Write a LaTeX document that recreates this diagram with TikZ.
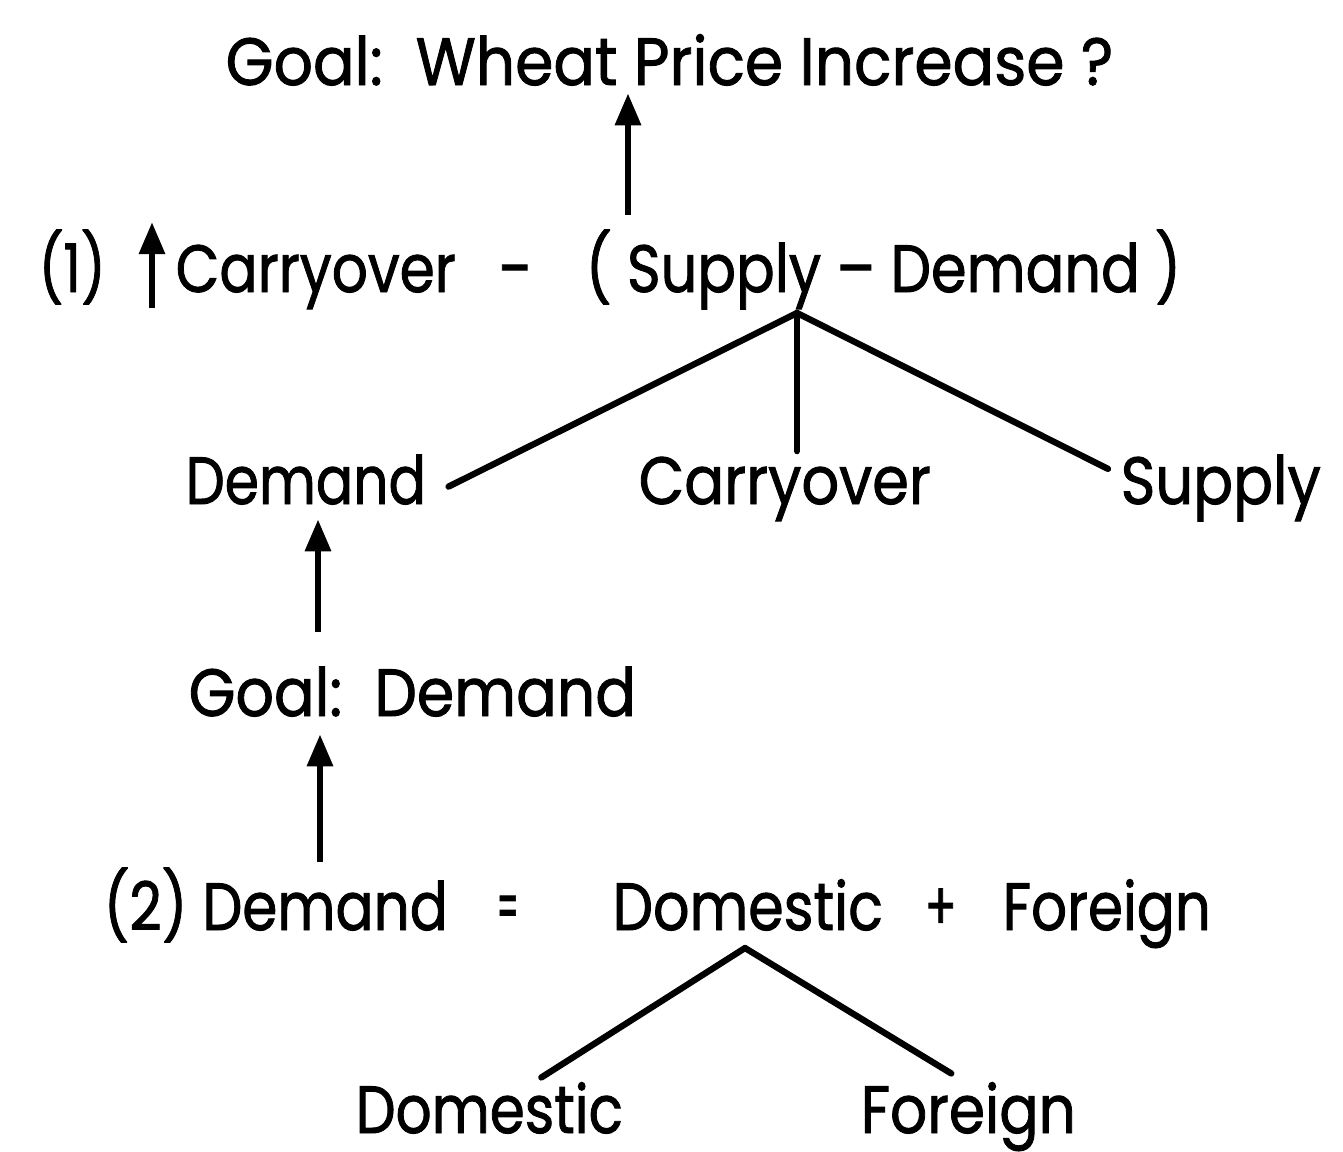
\documentclass[tikz,border=0pt]{standalone}
\usepackage{fontspec}
\usepackage{graphicx}
\setmainfont{Poppins}[FakeBold=1.4]
\usetikzlibrary{arrows.meta}
% set a piece of text to a given width, keeping its height
\newcommand\fitto[2]{\resizebox{#1}{\height}{#2}}
\begin{document}
\begin{tikzpicture}[x=0.01cm,y=-0.01cm,
  lbl/.style={inner sep=0pt, anchor=base west, font=\fontsize{19}{22}\selectfont},
  link/.style={line width=1.8pt, line cap=round},
  uparrow/.style={line width=1.8pt, -{Triangle[length=0.32cm,width=0.25cm]}}]
\useasboundingbox (0,0) rectangle (1343,1151);

% top goal
\node[lbl] (goal) at (225,85) {\fitto{8.87cm}{Goal:\ \ Wheat Price Increase ?}};

% rule (1)
\node[lbl] (r1num) at (38,292) {\fitto{0.67cm}{(1)}};
\node[lbl] (r1car) at (175,292) {\fitto{2.80cm}{Carryover}};
\node[lbl] (r1dash) at (498,292) {\fitto{0.32cm}{–}};
\node[lbl] (r1sd) at (585,292) {\fitto{5.95cm}{( Supply – Demand )}};

% sub-goals
\node[lbl] (dem) at (185,504) {\fitto{2.40cm}{Demand}};
\node[lbl] (car) at (638,504) {\fitto{2.92cm}{Carryover}};
\node[lbl] (sup) at (1120,504) {\fitto{2.00cm}{Supply}};

\node[lbl] (gdem) at (188,716) {\fitto{4.47cm}{Goal:\ \ Demand}};

% rule (2)
\node[lbl] (r2dem) at (103,930) {\fitto{3.44cm}{(2) Demand}};
\node[lbl] (r2eq) at (496,930) {\fitto{0.22cm}{=}};
\node[lbl] (r2d) at (612,930) {\fitto{2.70cm}{Domestic}};
\node[lbl] (r2p) at (924,930) {\fitto{0.32cm}{+}};
\node[lbl] (r2f) at (1002,930) {\fitto{2.08cm}{Foreign}};

\node[lbl] (dom) at (355,1133) {\fitto{2.67cm}{Domestic}};
\node[lbl] (for) at (860,1133) {\fitto{2.15cm}{Foreign}};

% arrows
\coordinate (a1) at (628,215);
\draw[uparrow] (a1) -- ([yshift=-0.07cm]a1 |- goal.south);
\coordinate (a0) at (152,308);
\draw[uparrow] (a0) -- ([yshift=0.22cm]a0 |- r1car.north);
\coordinate (a2) at (318,632);
\draw[uparrow] (a2) -- ([yshift=-0.14cm]a2 |- dem.south);
\coordinate (a3) at (320,862);
\draw[uparrow] (a3) -- ([yshift=-0.17cm]a3 |- gdem.south);

% decomposition of rule (1)
\coordinate (apex) at (797,313);
\draw[link] (apex) -- ([xshift=0.22cm,yshift=-0.07cm]dem.east);
\draw[link] (apex) -- ([yshift=0.05cm]apex |- car.north);
\draw[link] (apex) -- ([xshift=-0.12cm,yshift=-0.15cm]sup.north west);

% decomposition of rule (2)
\coordinate (apex2) at (745,948);
\draw[link] (apex2) -- ([xshift=0.52cm,yshift=0.04cm]dom.north);
\draw[link] (apex2) -- ([xshift=-0.17cm,yshift=0.08cm]for.north);
\end{tikzpicture}
\end{document}
